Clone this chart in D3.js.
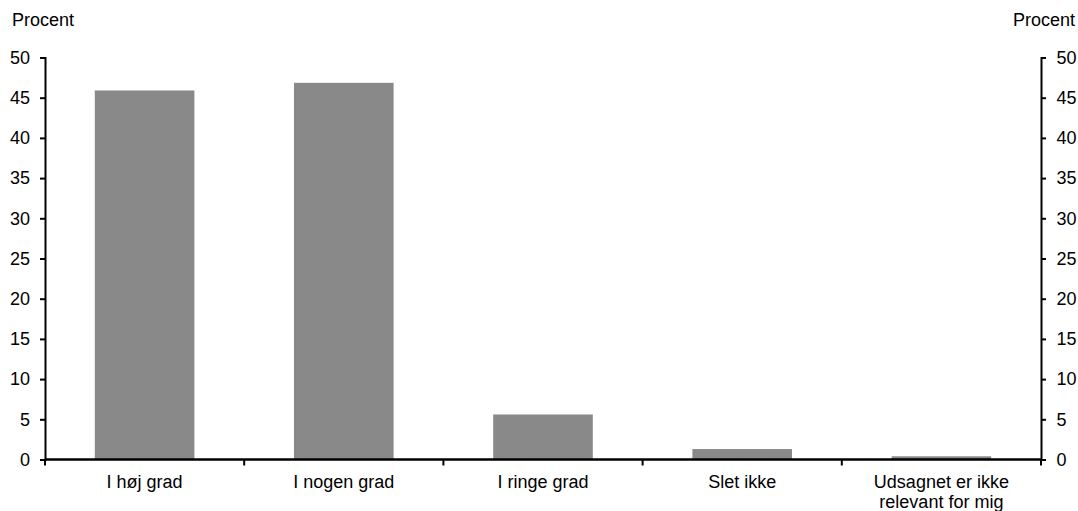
<!DOCTYPE html>
<html>
<head>
<meta charset="utf-8">
<script src="https://cdn.jsdelivr.net/npm/d3@7"></script>
<style>
  body { margin: 0; background: #fff; }
  svg { font-family: "Liberation Sans", Arial, sans-serif; }
</style>
</head>
<body>
<svg id="chart" width="1078" height="511"></svg>
<script>
const categories = [["I høj grad"], ["I nogen grad"], ["I ringe grad"], ["Slet ikke"], ["Udsagnet er ikke", "relevant for mig"]]
const values = [45.9, 46.85, 5.6, 1.3, 0.4]
const yTicks = [0, 5, 10, 15, 20, 25, 30, 35, 40, 45, 50]
const unitLabel = "Procent"

const width = 1078, height = 511
const margin = { top: 57.5, right: 37, bottom: 51.5, left: 45 }
const fontSize = 18
const svg = d3.select('#chart')

const keys = categories.map(d => d.join(' '))
const x = d3.scaleBand()
    .domain(keys)
    .range([margin.left, width - margin.right])
    .paddingInner(0.5)
    .paddingOuter(0.25)

const y = d3.scaleLinear()
    .domain([0, 50])
    .range([height - margin.bottom, margin.top])

// bars
svg.append('g')
    .selectAll('rect')
    .data(values)
    .enter().append('rect')
    .attr('x', (d, i) => x(keys[i]))
    .attr('width', x.bandwidth())
    .attr('y', d => y(d))
    .attr('height', d => y(0) - y(d))
    .style('fill', '#898989')

// left axis
const left = svg.append('g')
    .attr('transform', `translate(${margin.left},0)`)
    .call(d3.axisLeft(y).tickValues(yTicks).tickSize(5).tickPadding(10))
// right axis
const right = svg.append('g')
    .attr('transform', `translate(${width - margin.right},0)`)
    .call(d3.axisRight(y).tickValues(yTicks).tickSize(5).tickPadding(10.5))

for (const ax of [left, right]) {
    ax.select('.domain').attr('stroke', '#000').attr('stroke-width', 2)
    ax.selectAll('.tick line').attr('stroke', '#000').attr('stroke-width', 2)
    ax.selectAll('.tick text').attr('font-size', fontSize).attr('fill', '#000')
        .attr('font-family', '"Liberation Sans", Arial, sans-serif')
}

// x axis: line at zero with ticks at band boundaries
const step = x.step()
const bounds = d3.range(keys.length + 1).map(i => margin.left + i * step)
svg.append('line')
    .attr('x1', margin.left).attr('x2', width - margin.right)
    .attr('y1', y(0)).attr('y2', y(0))
    .attr('stroke', '#000').attr('stroke-width', 2.5)
svg.append('g')
    .selectAll('line')
    .data(bounds)
    .enter().append('line')
    .attr('x1', d => d).attr('x2', d => d)
    .attr('y1', y(0)).attr('y2', y(0) + 6)
    .attr('stroke', '#000').attr('stroke-width', 2)

const labels = svg.append('g')
    .selectAll('text')
    .data(categories)
    .enter().append('text')
    .attr('x', (d, i) => x(keys[i]) + x.bandwidth() / 2)
    .attr('y', 488)
    .attr('text-anchor', 'middle')
    .attr('font-size', fontSize)
    .attr('fill', '#000')
labels.selectAll('tspan')
    .data(d => d)
    .enter().append('tspan')
    .attr('x', function () { return d3.select(this.parentNode).attr('x') })
    .attr('dy', (d, i) => i === 0 ? 0 : 20)
    .text(d => d)

svg.append('text')
    .attr('x', 12).attr('y', 26)
    .attr('font-size', fontSize)
    .text(unitLabel)
svg.append('text')
    .attr('x', 1075).attr('y', 26)
    .attr('text-anchor', 'end')
    .attr('font-size', fontSize)
    .text(unitLabel)
</script>
</body>
</html>
